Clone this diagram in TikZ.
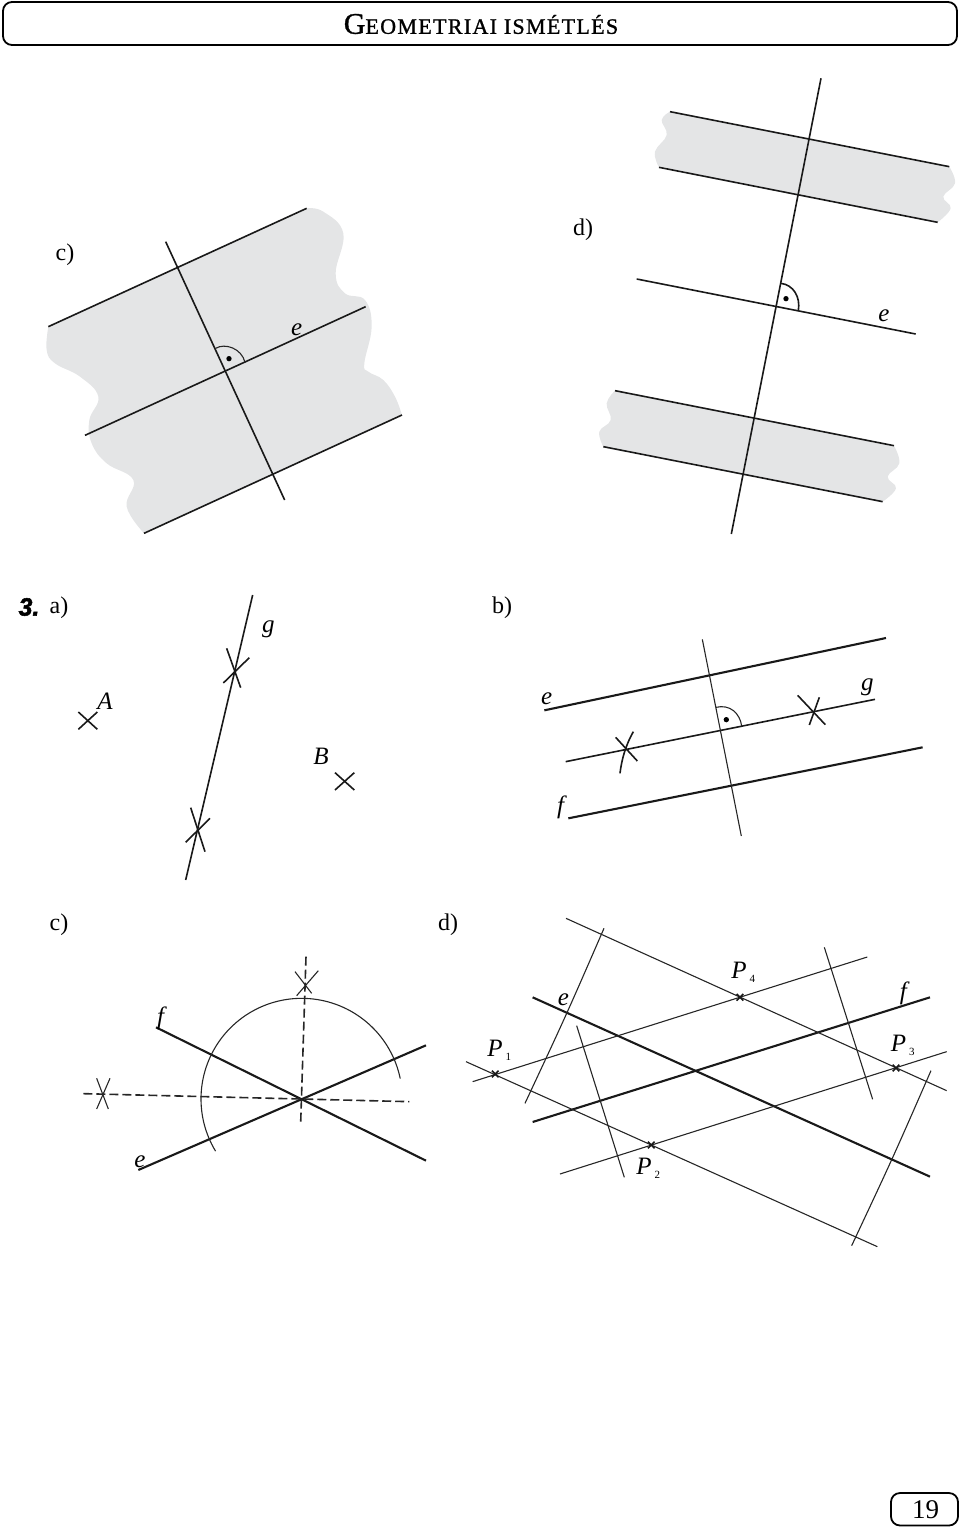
\documentclass[tikz,border=0pt]{standalone}
\usepackage{fontspec}
\newfontfamily\tms{Liberation Serif}
\newfontfamily\hdr[LetterSpace=6,FakeBold=1.1]{Liberation Serif}
\newfontfamily\numf[BoldItalicFeatures={FakeBold=2}]{Liberation Sans}
\definecolor{bandgray}{HTML}{E4E5E6}
\tikzset{
  full/.style={x=1pt,y=-1pt},
  zoomed/.style={x=0.33333pt,y=-0.33333pt},
  thickln/.style={line width=1.6pt,black!90},
  boldln/.style={line width=2.1pt,black!90},
  thinln/.style={line width=1.1pt,black!85},
  dashln/.style={line width=1.6pt,black!85,dash pattern=on 9pt off 4pt},
  bandfill/.style={fill=bandgray},
  roman/.style={font=\tms\fontsize{24}{24}\selectfont,inner sep=0pt},
  ital/.style={font=\tms\itshape\fontsize{25}{25}\selectfont,inner sep=0pt},
  frame/.style={draw=black,line width=1.8pt,rounded corners=9pt}
}
\newcommand{\Psub}[1]{\textit{P}\hspace{3pt}\raisebox{-4pt}{\fontsize{11}{11}\selectfont\upshape #1}}
\begin{document}
\begin{tikzpicture}[full]
\useasboundingbox (0,0) rectangle (960,1527);
% header
\draw[frame] (3,2) rectangle (957,45);
\node[inner sep=0pt,font=\hdr] (title) at (481,24) {\fontsize{30}{30}\selectfont G\fontsize{22}{22}\selectfont EOMETRIAI ISMÉTLÉS};
% page number
\draw[frame] (891,1493) rectangle (958,1525.5);
\node[inner sep=0pt,font=\tms\fontsize{27}{27}\selectfont] (page) at (925.5,1510) {19};
% labels
\node[roman] (cc) at (65,255) {c)};
\node[roman] (dd) at (583,230) {d)};
\node[roman] (aa) at (59,608) {a)};
\node[roman] (bb) at (502,608) {b)};
\node[roman] (c2) at (59,925) {c)};
\node[roman] (d2) at (448,925) {d)};
\node[inner sep=0pt,font=\numf\bfseries\itshape\fontsize{25}{25}\selectfont] (three) at (29,607) {3.};
% ---- upper c
\begin{scope}[zoomed,shift={(90,600)}]
\fill[bandfill] plot[smooth,tension=.7] coordinates {(55,380)(50,450)(75,490)(150,530)(205,590)(178,660)(185,730)(230,790)(310,840)(290,920)(342,1000)}
 -- plot[smooth,tension=.7] coordinates {(1116,645)(1095,590)(1060,540)(1015,515)(1003,490)(1025,380)(1005,300)(945,280)(917,220)(940,100)(880,35)(830,25)} -- cycle;
\draw[thickln] (55,380)--(830,25);
\draw[thickln] (165,706)--(1007,320);
\draw[thickln] (342,1000)--(1116,645);
\draw[thickln] (407,125)--(764,900);
\draw[thinln] (557,445) .. controls (585,428) and (635,445) .. (645,487);
\fill (597,476) circle (8);
\node[ital] (e1) at (800,390) {e};
\end{scope}
% ---- upper d
\begin{scope}[zoomed,shift={(1770,210)}]
\fill[bandfill] plot[smooth,tension=.7] coordinates {(240,125)(215,150)(230,195)(195,245)(207,292)}
 -- plot[smooth,tension=.7] coordinates {(1043,457)(1082,415)(1060,380)(1095,340)(1078,290)} -- cycle;
\fill[bandfill] plot[smooth,tension=.7] coordinates {(75,962)(50,1000)(62,1050)(28,1085)(40,1130)}
 -- plot[smooth,tension=.7] coordinates {(878,1295)(918,1255)(893,1220)(928,1180)(912,1127)} -- cycle;
\draw[thickln] (240,125)--(1078,290);
\draw[thickln] (207,292)--(1043,457);
\draw[thickln] (140,627)--(977,792);
\draw[thickln] (75,962)--(912,1127);
\draw[thickln] (40,1130)--(878,1295);
\draw[thickln] (693,25)--(424,1392);
\draw[thickln] (573,640) .. controls (610,645) and (632,680) .. (625,722);
\fill (588,686) circle (8);
\node[ital] (e2) at (882,738) {e};
\end{scope}
% ---- 3a
\begin{scope}[zoomed,shift={(0,1755)}]
\draw[thickln] (758,30)--(557,885);
\draw[thickln] (680,190)--(722,308);
\draw[thickln] (670,294)--(748,218);
\draw[thickln] (572,668)--(615,800);
\draw[thickln] (557,772)--(630,700);
\draw[thickln] (235,433)--(292,381);
\draw[thickln] (235,381)--(292,433);
\draw[thickln] (1005,615)--(1063,563);
\draw[thickln] (1005,563)--(1063,615);
\node[ital] (A) at (315,350) {A};
\node[ital] (B) at (963,515) {B};
\node[ital] (g1) at (805,133) {g};
\end{scope}
% ---- 3b
\begin{scope}[zoomed,shift={(1590,1890)}]
\draw[boldln] (43,241)--(1068,24);
\draw[thickln] (107,395)--(1035,208);
\draw[boldln] (115,565)--(1178,352);
\draw[thinln] (517,28)--(634,618);
\draw[thinln] (558,232) .. controls (600,222) and (630,250) .. (635,288);
\fill (589,269) circle (8);
\draw[thickln] (803,196)--(886,284);
\draw[thickln] (838,285)--(868,202);
\draw[thickln] (257,322)--(322,393);
\draw[thickln] (310,305) .. controls (285,350) and (275,390) .. (270,430);
\node[ital] (e3) at (50,207) {e};
\node[ital] (g2) at (1012,172) {g};
\node[ital] (f1) at (92,533) {f};
\end{scope}
% ---- 3c
\begin{scope}[zoomed,shift={(210,2850)}]
\draw[boldln] (205,660)--(1068,286);
\draw[boldln] (258,232)--(1068,632);
\draw[dashln] (708,20)--(692,520);
\draw[dashln] (40,431)--(1018,455);
\draw[thinln] plot[domain=211.2:11.7,samples=90] ({695+302*cos(\x)},{447-302*sin(\x)});
\draw[thinln] (675,65)--(725,130);
\draw[thinln] (745,62)--(680,137);
\draw[thinln] (80,385)--(115,477);
\draw[thinln] (120,385)--(80,477);
\node[ital] (f2) at (272,205) {f};
\node[ital] (e4) at (210,635) {e};
\end{scope}
% ---- 3d
\begin{scope}[zoomed,shift={(1380,2730)}]
\draw[boldln] (218,262)--(1410,800);
\draw[boldln] (218,636)--(1410,262);
\draw[thinln] (38,515)--(1222,141);
\draw[thinln] (300,792)--(1460,425);
\draw[thinln] (318,25)--(1460,542);
\draw[thinln] (18,455)--(1252,1010);
\draw[thinln] (432,55) .. controls (318,317) .. (195,580);
\draw[thinln] (350,347)--(493,802);
\draw[thinln] (1093,112)--(1238,568);
\draw[thinln] (1413,482) .. controls (1298,745) .. (1175,1007);
\foreach \px/\py in {106/492,574/705,1308/474,840/262}{
  \draw[thickln] (\px-10,\py-10)--(\px+10,\py+10);
  \draw[thickln] (\px-10,\py+10)--(\px+10,\py-10);
}
\node[ital] (P1) at (118,420) {\Psub{1}};
\node[ital] (P2) at (565,775) {\Psub{2}};
\node[ital] (P3) at (1328,407) {\Psub{3}};
\node[ital] (P4) at (850,188) {\Psub{4}};
\node[ital] (e5) at (310,270) {e};
\node[ital] (f3) at (1330,250) {f};
\end{scope}
\end{tikzpicture}
\end{document}
